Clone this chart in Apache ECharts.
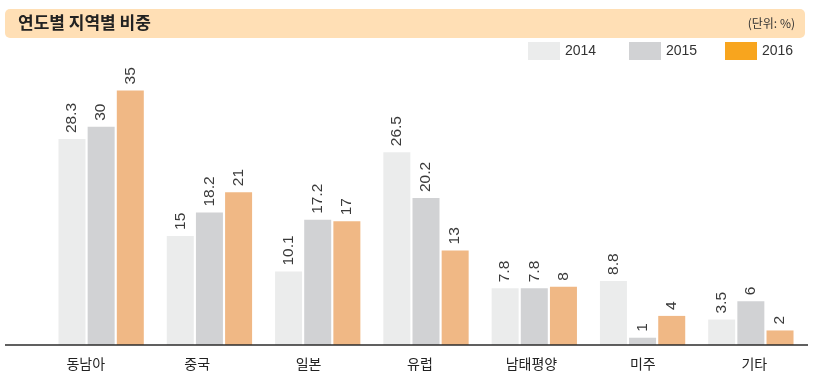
<!DOCTYPE html>
<html>
<head>
<meta charset="utf-8">
<script src="https://cdn.jsdelivr.net/npm/echarts@6/dist/echarts.min.js"></script>
<style>
html,body{margin:0;padding:0;background:#fff;}
#chart{width:815px;height:385px;}
</style>
</head>
<body>
<div id="chart"></div>
<script>
var categories = ['동남아', '중국', '일본', '유럽', '남태평양', '미주', '기타'];
var years = ['2014', '2015', '2016'];
var values2014 = [28.3, 15, 10.1, 26.5, 7.8, 8.8, 3.5];
var values2015 = [30, 18.2, 17.2, 20.2, 7.8, 1, 6];
var values2016 = [35, 21, 17, 13, 8, 4, 2];

var barColors = ['#EBECEC', '#D1D2D4', '#F0B885'];
var legendColors = ['#EBECEC', '#D1D2D4', '#F8A51E'];
var legendLefts = [528, 629, 725];
var numFont = '"Liberation Sans Narrow", "Liberation Sans", Arial, sans-serif';
var krFont = '"Noto Sans CJK KR", "Noto Sans", sans-serif';

function makeSeries(name, data, color) {
  return {
    name: name,
    type: 'bar',
    xAxisIndex: 0,
    yAxisIndex: 0,
    data: data,
    barWidth: 27,
    barGap: '8%',
    itemStyle: { color: color },
    emphasis: { disabled: true },
    label: {
      show: true,
      position: 'top',
      rotate: 90,
      align: 'left',
      verticalAlign: 'middle',
      distance: 6,
      fontFamily: numFont,
      fontSize: 15.5,
      color: '#3a3a3a'
    }
  };
}

var chart = echarts.init(document.getElementById('chart'), null, { renderer: 'canvas' });
chart.setOption({
  animation: false,
  backgroundColor: '#ffffff',
  graphic: [
    { type: 'rect', shape: { x: 5, y: 9, width: 800, height: 29, r: 5 }, style: { fill: '#FFDFB5' }, z: -1 },
    { type: 'line', shape: { x1: 5, y1: 345, x2: 808, y2: 345 }, style: { stroke: '#2b2b2b', lineWidth: 1.5 }, z: 10 }
  ],
  title: [
    { text: '연도별 지역별 비중', left: 18, top: 14, padding: 0,
      textStyle: { fontFamily: krFont, fontSize: 17, fontWeight: 'bold', color: '#222' } },
    { text: '(단위: %)', right: 20, top: 17, padding: 0,
      textStyle: { fontFamily: krFont, fontSize: 12, fontWeight: 'normal', color: '#333' } }
  ],
  legend: years.map(function (y, i) {
    return {
      left: legendLefts[i],
      top: 42,
      padding: 0,
      itemWidth: 32,
      itemHeight: 18,
      icon: 'rect',
      selectedMode: false,
      textStyle: { fontFamily: numFont, fontSize: 14, color: '#333' },
      data: [{ name: y, itemStyle: { color: legendColors[i] } }]
    };
  }),
  grid: [
    { left: 47, right: 10, top: 54, bottom: 40 },
    { left: 30, right: 5, top: 54, bottom: 40 }
  ],
  xAxis: [
    { type: 'category', gridIndex: 0, data: categories,
      axisLine: { show: false }, axisTick: { show: false }, axisLabel: { show: false } },
    { type: 'category', gridIndex: 1, data: categories,
      axisLine: { show: false }, axisTick: { show: false },
      axisLabel: { show: true, margin: 12, fontFamily: krFont, fontSize: 14, color: '#222' } }
  ],
  yAxis: [
    { type: 'value', gridIndex: 0, min: 0, max: 40, show: false },
    { type: 'value', gridIndex: 1, min: 0, max: 40, show: false }
  ],
  series: [
    makeSeries(years[0], values2014, barColors[0]),
    makeSeries(years[1], values2015, barColors[1]),
    makeSeries(years[2], values2016, barColors[2])
  ]
});
</script>
</body>
</html>
